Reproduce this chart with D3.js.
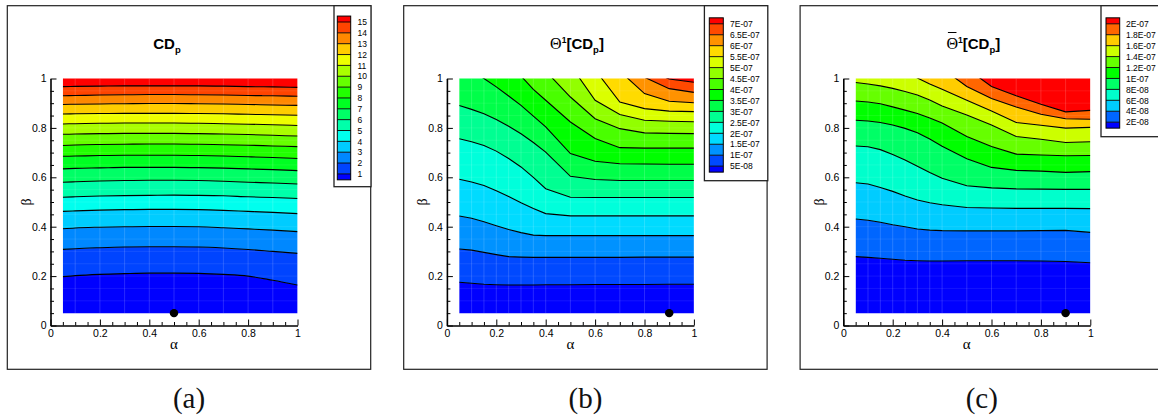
<!DOCTYPE html>
<html><head><meta charset="utf-8">
<script src="https://cdn.jsdelivr.net/npm/d3@7"></script>
<style>body{margin:0;background:#fff} svg{display:block}</style>
</head><body>
<svg id="c" width="1158" height="419"></svg>
<script>
// ---------------- DATA ----------------
// Panel (a): CD_p ; contour-line beta positions at each alpha column
const alphaColsA = [0.05,0.1,0.2,0.3,0.4,0.5,0.6,0.7,0.8,0.9,1.0];
const levelsA = [1,2,3,4,5,6,7,8,9,10,11,12,13,14,15];
const levelLabelsA = ["1","2","3","4","5","6","7","8","9","10","11","12","13","14","15"];
const linesA = [
  [.198,.202,.207,.210,.212,.212,.211,.207,.200,.183,.164],
  [.308,.311,.315,.318,.319,.319,.318,.314,.308,.300,.292],
  [.392,.395,.398,.400,.401,.401,.400,.396,.391,.386,.380],
  [.462,.464,.467,.469,.470,.470,.469,.466,.462,.458,.453],
  [.519,.521,.524,.526,.527,.528,.527,.525,.521,.518,.514],
  [.580,.582,.585,.587,.588,.588,.587,.584,.580,.577,.573],
  [.634,.636,.638,.640,.640,.640,.639,.637,.634,.631,.627],
  [.685,.686,.688,.689,.689,.689,.688,.686,.683,.680,.676],
  [.729,.731,.733,.734,.735,.735,.734,.732,.730,.727,.724],
  [.774,.775,.777,.778,.778,.778,.777,.775,.773,.770,.767],
  [.816,.817,.819,.820,.820,.820,.819,.817,.815,.813,.810],
  [.856,.857,.858,.859,.859,.859,.858,.857,.855,.853,.851],
  [.895,.896,.897,.898,.899,.899,.898,.897,.895,.893,.891],
  [.930,.931,.933,.934,.935,.935,.934,.933,.931,.930,.928],
  [.967,.968,.969,.970,.970,.970,.970,.969,.967,.966,.964]
];

// Panels (b) and (c) share alpha columns
const alphaColsBC = [0.05,0.1,0.15,0.2,0.25,0.3,0.35,0.4,0.5,0.6,0.7,0.8,0.9,1.0];

// Panel (b): Theta^1[CD_p]   (values above 1 lie outside the domain and are clipped)
const levelsB = [5e-8,1e-7,1.5e-7,2e-7,2.5e-7,3e-7,3.5e-7,4e-7,4.5e-7,5e-7,5.5e-7,6e-7,6.5e-7,7e-7];
const levelLabelsB = ["5E-08","1E-07","1.5E-07","2E-07","2.5E-07","3E-07","3.5E-07","4E-07","4.5E-07","5E-07","5.5E-07","6E-07","6.5E-07","7E-07"];
const linesB = [
  [.175,.171,.167,.165,.164,.164,.164,.165,.165,.166,.166,.166,.167,.167],
  [.310,.305,.296,.287,.279,.277,.276,.276,.276,.276,.276,.277,.277,.277],
  [.443,.434,.420,.404,.389,.376,.366,.364,.364,.364,.364,.364,.364,.364],
  [.592,.581,.567,.546,.522,.497,.474,.453,.444,.444,.444,.444,.444,.444],
  [.756,.744,.729,.706,.676,.642,.600,.554,.519,.518,.518,.518,.518,.518],
  [.891,.875,.857,.834,.807,.776,.741,.702,.604,.591,.587,.587,.587,.587],
  [1.06,1.03,1.00,.966,.929,.891,.848,.804,.696,.665,.655,.654,.653,.653],
  [1.30,1.25,1.20,1.15,1.08,1.01,.956,.912,.824,.757,.720,.718,.718,.718],
  [1.40,1.35,1.30,1.25,1.20,1.15,1.09,1.03,.925,.837,.797,.780,.778,.777],
  [1.50,1.45,1.40,1.35,1.30,1.25,1.20,1.15,1.054,.912,.854,.831,.827,.825],
  [1.60,1.55,1.50,1.45,1.40,1.35,1.30,1.25,1.15,1.035,.905,.878,.868,.866],
  [1.70,1.65,1.60,1.55,1.50,1.45,1.40,1.35,1.25,1.15,1.03,.939,.908,.902],
  [1.80,1.75,1.70,1.65,1.60,1.55,1.50,1.45,1.35,1.25,1.12,1.005,.959,.944],
  [1.90,1.85,1.80,1.75,1.70,1.65,1.60,1.55,1.45,1.35,1.20,1.04,.998,.985]
];

// Panel (c): Theta-bar^1[CD_p]
const levelsC = [2e-8,4e-8,6e-8,8e-8,1e-7,1.2e-7,1.4e-7,1.6e-7,1.8e-7,2e-7];
const levelLabelsC = ["2E-08","4E-08","6E-08","8E-08","1E-07","1.2E-07","1.4E-07","1.6E-07","1.8E-07","2E-07"];
const linesC = [
  [.279,.276,.272,.268,.264,.262,.261,.261,.262,.262,.262,.261,.259,.254],
  [.431,.426,.418,.408,.400,.391,.386,.384,.383,.383,.383,.384,.385,.377],
  [.578,.573,.559,.543,.524,.508,.497,.489,.478,.476,.474,.474,.474,.473],
  [.727,.724,.712,.692,.670,.645,.619,.596,.566,.557,.553,.552,.551,.551],
  [.831,.828,.822,.812,.798,.780,.755,.726,.675,.640,.628,.625,.620,.623],
  [.909,.905,.898,.885,.872,.858,.840,.820,.765,.725,.694,.690,.687,.688],
  [.984,.978,.970,.960,.947,.933,.913,.889,.852,.812,.765,.754,.741,.744],
  [1.12,1.10,1.08,1.06,1.03,1.002,.978,.956,.912,.868,.822,.811,.799,.802],
  [1.30,1.27,1.24,1.21,1.17,1.13,1.085,1.04,.968,.919,.885,.855,.837,.835],
  [1.45,1.42,1.39,1.36,1.32,1.28,1.22,1.16,1.04,.968,.930,.896,.865,.871]
];

// Marker points (alpha, beta)
const markerA = [0.5, 0.05];
const markerB = [0.9, 0.05];
const markerC = [0.9, 0.05];

// Axis ticks
const majorTicks = [0,0.2,0.4,0.6,0.8,1];
const minorTicks = [0.05,0.1,0.15,0.25,0.3,0.35,0.45,0.5,0.55,0.65,0.7,0.75,0.85,0.9,0.95];
const axisTitleX = "α";
const axisTitleY = "β";
const captions = ["(a)","(b)","(c)"];

// ---------------- DRAW ----------------
const svg = d3.select("#c");
const rainbow = d3.scaleLinear()
  .domain([0,0.25,0.5,0.75,1])
  .range(["#0000ff","#00ffff","#00ff00","#ffff00","#ff0000"])
  .interpolate(d3.interpolateRgb);

const SANS = "'Liberation Sans', Arial, sans-serif";
const SERIF = "'Liberation Serif', 'Times New Roman', serif";

const panels = [
  {dx:0, cols:alphaColsA, levels:levelsA, labels:levelLabelsA, lines:linesA, marker:markerA,
   curve:d3.curveMonotoneX, title:"a", titleX:167,
   legend:{boxX:334, boxW:37, boxH:181, barX:337.3, barW:13.4, topY:22, step:10.85, labelX:357.5}},
  {dx:396.4, cols:alphaColsBC, levels:levelsB, labels:levelLabelsB, lines:linesB, marker:markerB,
   curve:d3.curveLinear, title:"b", titleX:180.6,
   legend:{boxX:308, boxW:63.4, boxH:175, barX:312.9, barW:14, topY:23.8, step:10.95, labelX:333.6}},
  {dx:792.8, cols:alphaColsBC, levels:levelsC, labels:levelLabelsC, lines:linesC, marker:markerC,
   curve:d3.curveLinear, title:"c", titleX:180.5,
   legend:{boxX:308.2, boxW:70, boxH:131, barX:313.2, barW:13.7, topY:23.8, step:10.93, labelX:333.2}}
];

panels.forEach((p, pi) => {
  const g = svg.append("g").attr("transform", `translate(${p.dx},0)`);
  const x = d3.scaleLinear().domain([0,1]).range([50.5,297.5]);
  const y = d3.scaleLinear().domain([0,1]).range([325.5,78.5]);

  // frame
  g.append("rect").attr("x",7.3).attr("y",5.7).attr("width",363.4).attr("height",363.6)
    .attr("fill","none").attr("stroke","#222").attr("stroke-width",1.2);

  // clip for contour field
  const cid = "clip"+pi;
  g.append("clipPath").attr("id",cid).append("rect")
    .attr("x",x(0.05)).attr("y",y(1)).attr("width",x(1)-x(0.05)).attr("height",y(0.05)-y(1));
  const field = g.append("g").attr("clip-path",`url(#${cid})`);

  const nB = p.levels.length + 1;
  const bounds = [p.cols.map(()=>-1), ...p.lines, p.cols.map(()=>3)];
  for (let i = 0; i < nB; i++) {
    const lo = bounds[i], hi = bounds[i+1];
    const area = d3.area()
      .x((d,j)=>x(p.cols[j])).y0((d,j)=>y(lo[j])).y1((d,j)=>y(hi[j])).curve(p.curve);
    field.append("path").attr("d", area(p.cols)).attr("fill", rainbow(i/(nB-1)))
      .attr("stroke", rainbow(i/(nB-1))).attr("stroke-width",0.3);
  }
  // faint mesh
  field.selectAll("line.mv").data(p.cols.slice(1,-1)).join("line")
    .attr("x1",d=>x(d)).attr("x2",d=>x(d)).attr("y1",y(1)).attr("y2",y(0.05))
    .attr("stroke","#fff").attr("stroke-opacity",0.2).attr("stroke-width",0.8);
  field.selectAll("line.mh").data(d3.range(0.1,0.96,0.05)).join("line")
    .attr("x1",x(0.05)).attr("x2",x(1)).attr("y1",d=>y(d)).attr("y2",d=>y(d))
    .attr("stroke","#fff").attr("stroke-opacity",0.1).attr("stroke-width",0.8);
  // contour lines
  const line = d3.line().x((d,j)=>x(p.cols[j])).y(d=>y(d)).curve(p.curve);
  field.selectAll("path.cl").data(p.lines).join("path").attr("class","cl")
    .attr("d", line).attr("fill","none").attr("stroke","#000").attr("stroke-width",1.1);

  // axes
  const fmt = d3.format("~g");
  const ax = g.append("g").attr("transform",`translate(0,${y(0)})`)
    .call(d3.axisBottom(x).tickValues(majorTicks).tickFormat(fmt).tickSizeInner(-6).tickSizeOuter(0).tickPadding(4.3));
  const axm = g.append("g").attr("transform",`translate(0,${y(0)})`)
    .call(d3.axisBottom(x).tickValues(minorTicks).tickFormat("").tickSizeInner(-3.5).tickSizeOuter(0));
  const ay = g.append("g").attr("transform",`translate(${x(0)},0)`)
    .call(d3.axisLeft(y).tickValues(majorTicks).tickFormat(fmt).tickSizeInner(-6).tickSizeOuter(0).tickPadding(4));
  const aym = g.append("g").attr("transform",`translate(${x(0)},0)`)
    .call(d3.axisLeft(y).tickValues(minorTicks).tickFormat("").tickSizeInner(-3.5).tickSizeOuter(0));
  [axm, aym].forEach(a => a.select(".domain").remove());
  [ax, ay].forEach(a => a.select(".domain").attr("stroke","#000").attr("stroke-width",1.6));
  [ax, axm, ay, aym].forEach(a => a.selectAll(".tick line").attr("stroke","#000").attr("stroke-width",1));
  [ax, ay].forEach(a => a.selectAll(".tick text").attr("font-family",SANS).attr("font-size",10.5).attr("fill","#000"));

  // axis titles
  g.append("text").attr("x",x(0.5)).attr("y",349).attr("text-anchor","middle")
    .attr("font-family",SERIF).attr("font-size",15).text(axisTitleX);
  g.append("text").attr("transform",`translate(31,${y(0.5)}) rotate(-90)`).attr("text-anchor","middle")
    .attr("font-family",SERIF).attr("font-size",14).text(axisTitleY);

  // marker
  g.append("circle").attr("cx",x(p.marker[0])).attr("cy",y(p.marker[1])).attr("r",4.2).attr("fill","#000");

  // title
  const t = g.append("text").attr("x",p.titleX).attr("y",49.3).attr("text-anchor","middle")
    .attr("font-family",SANS).attr("font-weight","bold").attr("font-size",15);
  if (p.title === "a") {
    t.append("tspan").text("CD");
    t.append("tspan").attr("font-size",9.5).attr("dy",4).text("p");
  } else {
    t.append("tspan").attr("font-family",SERIF).attr("font-weight","normal").attr("font-size",16).text("Θ");
    t.append("tspan").attr("font-size",8.5).attr("dy",-6.5).text("1");
    t.append("tspan").attr("dy",6.5).text("[CD");
    t.append("tspan").attr("font-size",9.5).attr("dy",4).text("p");
    t.append("tspan").attr("dy",-4).text("]");
    if (p.title === "c") {
      const ext = t.node().getExtentOfChar(0);
      g.append("line").attr("x1",ext.x+1.5).attr("x2",ext.x+ext.width-1.5)
        .attr("y1",32.5).attr("y2",32.5).attr("stroke","#000").attr("stroke-width",1);
    }
  }

  // legend
  const L = p.legend, n = p.levels.length, half = L.step/2 + 0.5;
  const ly = d3.scaleLinear().domain([n-1,0]).range([L.topY, L.topY + (n-1)*L.step]);
  g.append("rect").attr("x",L.boxX).attr("y",5.7).attr("width",L.boxW).attr("height",L.boxH)
    .attr("fill","#fff").attr("stroke","#222").attr("stroke-width",1.3);
  for (let i = 0; i < nB; i++) {
    const yTop = i === nB-1 ? ly(n-1) - half : ly(i);
    const yBot = i === 0 ? ly(0) + half : ly(i-1);
    g.append("rect").attr("x",L.barX).attr("y",yTop).attr("width",L.barW).attr("height",yBot-yTop)
      .attr("fill",rainbow(i/(nB-1)));
  }
  g.selectAll("line.lb").data(d3.range(n)).join("line")
    .attr("x1",L.barX).attr("x2",L.barX+L.barW).attr("y1",k=>ly(k)).attr("y2",k=>ly(k))
    .attr("stroke","#000").attr("stroke-width",0.9);
  g.append("rect").attr("x",L.barX).attr("y",ly(n-1)-half).attr("width",L.barW)
    .attr("height",(ly(0)+half)-(ly(n-1)-half)).attr("fill","none").attr("stroke","#000").attr("stroke-width",1);
  g.selectAll("text.ll").data(d3.range(n)).join("text")
    .attr("x",L.labelX).attr("y",k=>ly(k)).attr("dy","0.38em")
    .attr("font-family",SANS).attr("font-size",8.5).attr("fill","#000").text(k=>p.labels[k]);

  // caption
  g.append("text").attr("x",189).attr("y",408).attr("text-anchor","middle")
    .attr("font-family",SERIF).attr("font-size",29).attr("fill","#111").text(captions[pi]);
});
</script>
</body></html>
